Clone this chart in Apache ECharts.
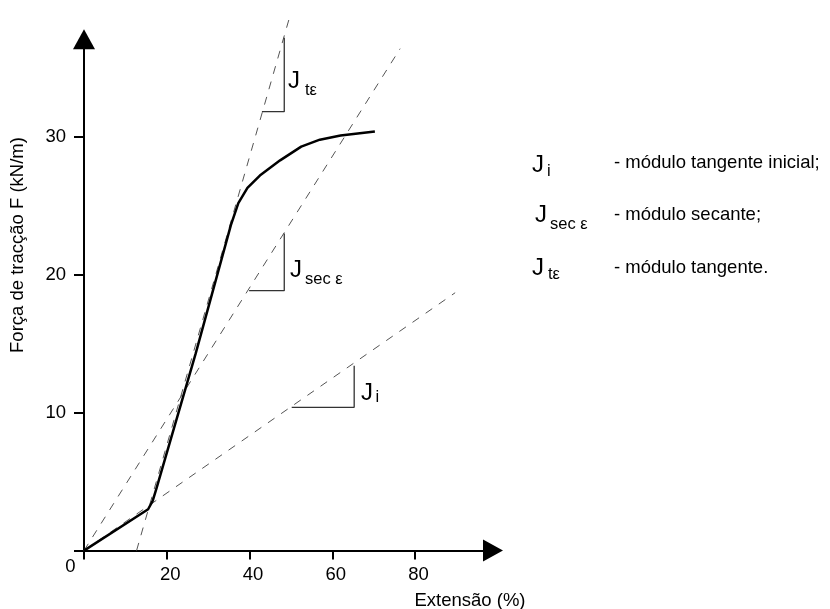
<!DOCTYPE html>
<html>
<head>
<meta charset="utf-8">
<script src="https://cdn.jsdelivr.net/npm/echarts@6/dist/echarts.min.js"></script>
<style>
  html, body { margin: 0; padding: 0; background: #fff; }
  #chart { width: 830px; height: 609px; }
</style>
</head>
<body>
<div id="chart"></div>
<script>
// axis ticks
const xTicks = [0, 20, 40, 60, 80];
const yTicks = [0, 10, 20, 30];
const yLabels = [10, 20, 30];

// load-extension curve
const curve = [
  [0, 0], [15.5, 3.0], [16.6, 3.6], [17.5, 4.5], [27, 14.3], [35.5, 23.6],
  [37.3, 25.2], [39.5, 26.3], [42.5, 27.2], [47.4, 28.3], [52.5, 29.3],
  [57, 29.8], [62, 30.1], [70.3, 30.4]
];

// dashed construction lines
const tangentLine = [[12.7, 0], [49.8, 38.8]];
const secantLine = [[0, 0], [76.4, 36.4]];
const initialLine = [[0, 0], [89.7, 18.7]];

// slope triangles
const triTangent = [[43, 31.83], [48.4, 31.83], [48.4, 37.2]];
const triSecant = [[39.9, 18.85], [48.4, 18.85], [48.4, 23.0]];
const triInitial = [[50.2, 10.39], [65.3, 10.39], [65.3, 13.4]];

const legendText = [
  "- módulo tangente inicial;",
  "- módulo secante;",
  "- módulo tangente."
];

const FONT = "Liberation Sans, Arial, sans-serif";

function txt(x, y, text, size, extra) {
  return Object.assign({
    type: "text",
    x: x,
    y: y,
    style: {
      text: text,
      fontSize: size,
      fontFamily: FONT,
      fill: "#000",
      align: "left",
      verticalAlign: "middle"
    }
  }, extra || {});
}

// J with subscript: left x, cap centre y, sub left x, sub centre y
function jLabel(x, y, sub, sx, sy) {
  return [txt(x, y, "J", 24), txt(sx, sy, sub, 16.5)];
}

const dashed = { type: [8, 8], width: 1, color: "#555" };
const thin = { type: "solid", width: 1.3, color: "#333" };

function lineSeries(data, style, z) {
  return {
    type: "line",
    data: data,
    symbol: "none",
    clip: false,
    silent: true,
    z: z,
    lineStyle: style
  };
}

const chart = echarts.init(document.getElementById("chart"));
chart.setOption({
  backgroundColor: "#fff",
  animation: false,
  grid: {
    left: 84,
    right: 337,
    top: 39.3,
    bottom: 58.4,
    outerBoundsMode: "none"
  },
  xAxis: {
    type: "value",
    min: 0,
    max: 98.85,
    interval: 20,
    axisLine: {
      onZero: false,
      symbol: ["none", "triangle"],
      symbolSize: [22, 20],
      lineStyle: { color: "#000", width: 2 }
    },
    axisTick: {
      length: 9,
      customValues: xTicks,
      lineStyle: { color: "#000", width: 2 }
    },
    axisLabel: {
      customValues: xTicks,
      margin: 7,
      formatter: v => (v === 0 ? "{z|0}" : "{n|" + v + "}"),
      rich: {
        z: { padding: [0, 27, 0, 0], fontSize: 18.5, fontFamily: FONT, color: "#000" },
        n: { padding: [8, 0, 0, 7], fontSize: 18.5, fontFamily: FONT, color: "#000" }
      }
    },
    splitLine: { show: false }
  },
  yAxis: {
    type: "value",
    min: 0,
    max: 37.08,
    interval: 10,
    axisLine: {
      onZero: false,
      symbol: ["none", "triangle"],
      symbolSize: [22, 20],
      lineStyle: { color: "#000", width: 2 }
    },
    axisTick: {
      length: 10,
      customValues: yTicks,
      lineStyle: { color: "#000", width: 2 }
    },
    axisLabel: {
      customValues: yLabels,
      margin: 18,
      fontSize: 18.5,
      fontFamily: FONT,
      color: "#000"
    },
    splitLine: { show: false }
  },
  series: [
    lineSeries(tangentLine, dashed, 2),
    lineSeries(secantLine, dashed, 2),
    lineSeries(initialLine, dashed, 2),
    lineSeries(triTangent, thin, 3),
    lineSeries(triSecant, thin, 3),
    lineSeries(triInitial, thin, 3),
    lineSeries(curve, { color: "#000", width: 2.5 }, 4)
  ],
  graphic: {
    elements: [
      txt(470, 601, "Extensão (%)", 18.5, { style: { text: "Extensão (%)", fontSize: 18.5, fontFamily: FONT, fill: "#000", align: "center", verticalAlign: "middle" } }),
      txt(18, 245, "Força de tracção F (kN/m)", 18.5, { rotation: Math.PI / 2, style: { text: "Força de tracção F (kN/m)", fontSize: 18.5, fontFamily: FONT, fill: "#000", align: "center", verticalAlign: "middle" } }),
      ...jLabel(288, 81, "tε", 305, 90),
      ...jLabel(290, 270, "sec ε", 305, 279),
      ...jLabel(361, 393.5, "i", 375.5, 397.5),
      ...jLabel(532, 165, "i", 547, 171.5),
      ...jLabel(535, 215.5, "sec ε", 550, 224),
      ...jLabel(532, 268.5, "tε", 548, 274),
      txt(614, 163, legendText[0], 18.5),
      txt(614, 215, legendText[1], 18.5),
      txt(614, 268, legendText[2], 18.5)
    ]
  }
});
</script>
</body>
</html>
